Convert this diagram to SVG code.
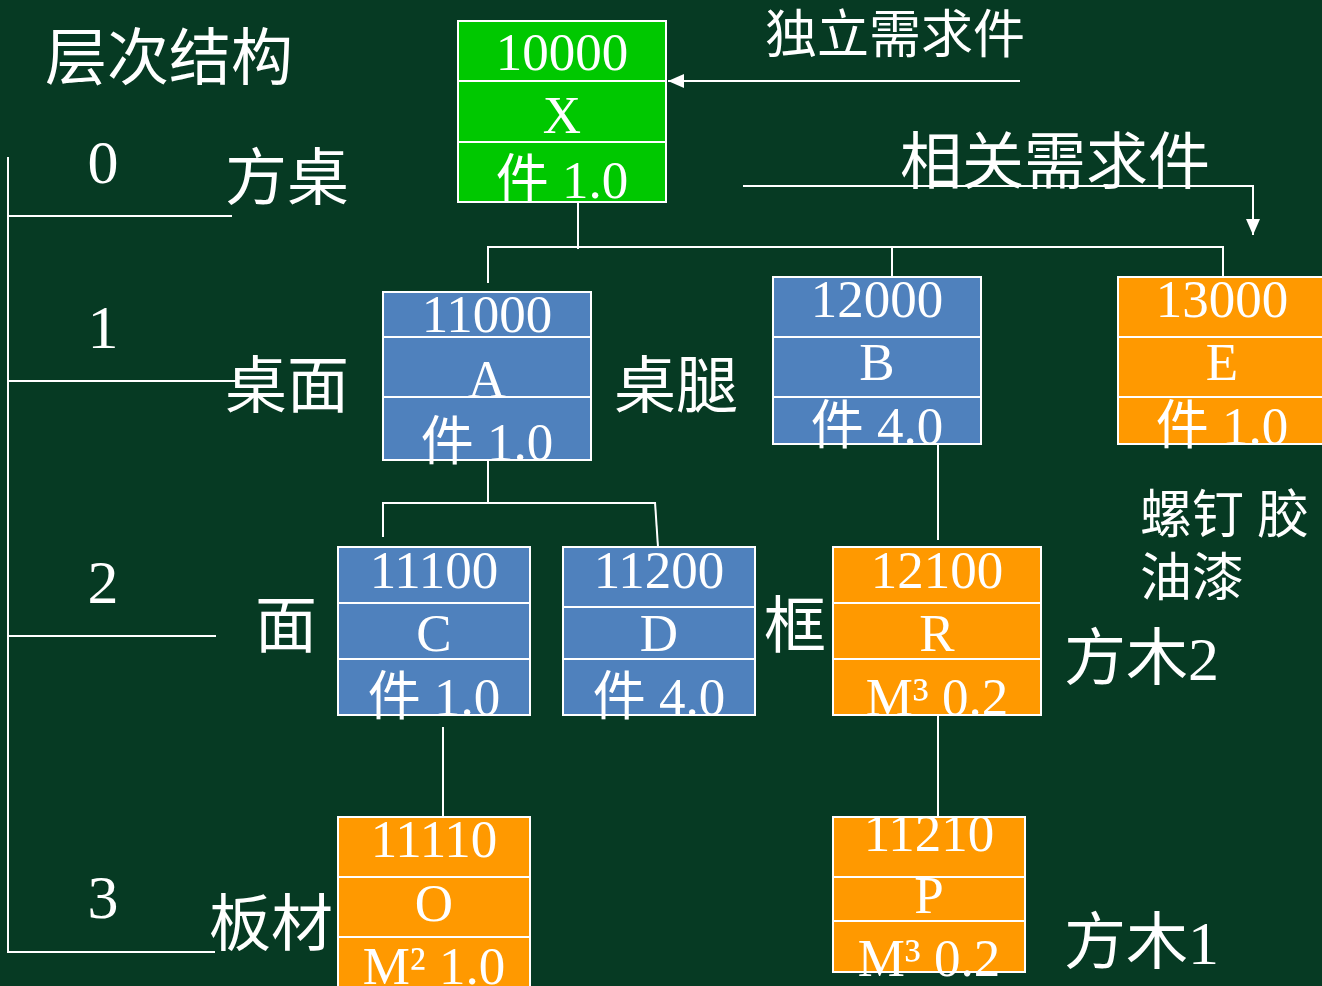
<svg xmlns="http://www.w3.org/2000/svg" width="1322" height="986" viewBox="0 0 1322 986">
<defs>
<style>
.bg{fill:#063A23}
.ln{stroke:#FFFFFF;stroke-width:2;fill:none}
.box{stroke:#FFFFFF;stroke-width:2}
.g{fill:#00C800}
.b{fill:#4F81BD}
.o{fill:#FF9900}
.t{fill:#FFFFFF;font-family:'Liberation Serif','Noto Sans CJK SC',serif;font-size:53px;text-anchor:middle}
.lb{fill:#FFFFFF;font-family:'Liberation Serif','Noto Sans CJK SC',serif;font-size:62px}
.lm{fill:#FFFFFF;font-family:'Liberation Serif','Noto Sans CJK SC',serif;font-size:52px}
</style>
<marker id="ah" viewBox="0 0 16 14" refX="16" refY="7" markerWidth="16" markerHeight="14" markerUnits="userSpaceOnUse" orient="auto">
<path d="M0,0 L16,7 L0,14 Z" fill="#FFFFFF"/>
</marker>
</defs>
<rect class="bg" x="0" y="0" width="1322" height="986"/>

<g id="labels">
<text class="lb" x="45" y="80">层次结构</text>
<text class="lm" x="765" y="53">独立需求件</text>
<text class="lb" x="900" y="184">相关需求件</text>
<text class="lb" x="103" y="183" text-anchor="middle">0</text>
<text class="lb" x="103" y="348" text-anchor="middle">1</text>
<text class="lb" x="103" y="603" text-anchor="middle">2</text>
<text class="lb" x="103" y="918" text-anchor="middle">3</text>
<text class="lb" x="225" y="200">方桌</text>
<text class="lb" x="225" y="408">桌面</text>
<text class="lb" x="255" y="648">面</text>
<text class="lb" x="209" y="946">板材</text>
<text class="lb" x="614" y="408">桌腿</text>
<text class="lb" x="764" y="648">框</text>
<text class="lb" x="1064" y="680">方木2</text>
<text class="lb" x="1064" y="964">方木1</text>
<text class="lm" x="1140" y="533">螺钉 胶</text>
<text class="lm" x="1140" y="596">油漆</text>
</g>

<g id="connectors">
<line class="ln" x1="8" y1="157" x2="8" y2="953"/>
<line class="ln" x1="8" y1="216" x2="232" y2="216"/>
<line class="ln" x1="8" y1="381" x2="236" y2="381"/>
<line class="ln" x1="8" y1="636" x2="216" y2="636"/>
<line class="ln" x1="8" y1="952" x2="215" y2="952"/>
<line class="ln" x1="1020" y1="81" x2="668" y2="81" marker-end="url(#ah)"/>
<polyline class="ln" points="743,186 1253,186 1253,235" marker-end="url(#ah)"/>
<line class="ln" x1="578" y1="202" x2="578" y2="249"/>
<line class="ln" x1="488" y1="247" x2="1223" y2="247"/>
<line class="ln" x1="488" y1="246" x2="488" y2="283"/>
<line class="ln" x1="892" y1="246" x2="892" y2="283"/>
<line class="ln" x1="1223" y1="246" x2="1223" y2="277"/>
<line class="ln" x1="488" y1="460" x2="488" y2="503"/>
<line class="ln" x1="383" y1="503" x2="655" y2="503"/>
<line class="ln" x1="383" y1="502" x2="383" y2="537"/>
<line class="ln" x1="655" y1="502" x2="658" y2="547"/>
<line class="ln" x1="938" y1="444" x2="938" y2="540"/>
<line class="ln" x1="443" y1="727" x2="443" y2="822"/>
<line class="ln" x1="938" y1="715" x2="938" y2="822"/>
</g>

<g id="node-X">
<rect class="box g" x="458" y="21" width="208" height="181"/>
<line class="ln" x1="458" y1="81" x2="666" y2="81"/>
<line class="ln" x1="458" y1="142" x2="666" y2="142"/>
<text class="t" x="562" y="70">10000</text>
<text class="t" x="562" y="133">X</text>
<text class="t" x="562" y="198">件 1.0</text>
</g>

<g id="node-A">
<rect class="box b" x="383" y="292" width="208" height="168"/>
<line class="ln" x1="383" y1="337" x2="591" y2="337"/>
<line class="ln" x1="383" y1="397" x2="591" y2="397"/>
<text class="t" x="487" y="332">11000</text>
<text class="t" x="487" y="397">A</text>
<text class="t" x="487" y="460">件 1.0</text>
</g>

<g id="node-B">
<rect class="box b" x="773" y="277" width="208" height="167"/>
<line class="ln" x1="773" y1="337" x2="981" y2="337"/>
<line class="ln" x1="773" y1="397" x2="981" y2="397"/>
<text class="t" x="877" y="317">12000</text>
<text class="t" x="877" y="380">B</text>
<text class="t" x="877" y="444">件 4.0</text>
</g>

<g id="node-E">
<rect class="box o" x="1118" y="277" width="210" height="167"/>
<line class="ln" x1="1118" y1="337" x2="1322" y2="337"/>
<line class="ln" x1="1118" y1="397" x2="1322" y2="397"/>
<text class="t" x="1222" y="317">13000</text>
<text class="t" x="1222" y="380">E</text>
<text class="t" x="1222" y="444">件 1.0</text>
</g>

<g id="node-C">
<rect class="box b" x="338" y="547" width="192" height="168"/>
<line class="ln" x1="338" y1="603" x2="530" y2="603"/>
<line class="ln" x1="338" y1="659" x2="530" y2="659"/>
<text class="t" x="434" y="588">11100</text>
<text class="t" x="434" y="651">C</text>
<text class="t" x="434" y="715">件 1.0</text>
</g>

<g id="node-D">
<rect class="box b" x="563" y="547" width="192" height="168"/>
<line class="ln" x1="563" y1="607" x2="755" y2="607"/>
<line class="ln" x1="563" y1="659" x2="755" y2="659"/>
<text class="t" x="659" y="588">11200</text>
<text class="t" x="659" y="651">D</text>
<text class="t" x="659" y="715">件 4.0</text>
</g>

<g id="node-R">
<rect class="box o" x="833" y="547" width="208" height="168"/>
<line class="ln" x1="833" y1="603" x2="1041" y2="603"/>
<line class="ln" x1="833" y1="659" x2="1041" y2="659"/>
<text class="t" x="937" y="588">12100</text>
<text class="t" x="937" y="651">R</text>
<text class="t" x="937" y="715">M³ 0.2</text>
</g>

<g id="node-O">
<rect class="box o" x="338" y="817" width="192" height="175"/>
<line class="ln" x1="338" y1="877" x2="530" y2="877"/>
<line class="ln" x1="338" y1="937" x2="530" y2="937"/>
<text class="t" x="434" y="857">11110</text>
<text class="t" x="434" y="921">O</text>
<text class="t" x="434" y="984">M² 1.0</text>
</g>

<g id="node-P">
<rect class="box o" x="833" y="817" width="192" height="155"/>
<line class="ln" x1="833" y1="877" x2="1025" y2="877"/>
<line class="ln" x1="833" y1="921" x2="1025" y2="921"/>
<text class="t" x="929" y="851">11210</text>
<text class="t" x="929" y="913">P</text>
<text class="t" x="929" y="976">M³ 0.2</text>
</g>
</svg>
